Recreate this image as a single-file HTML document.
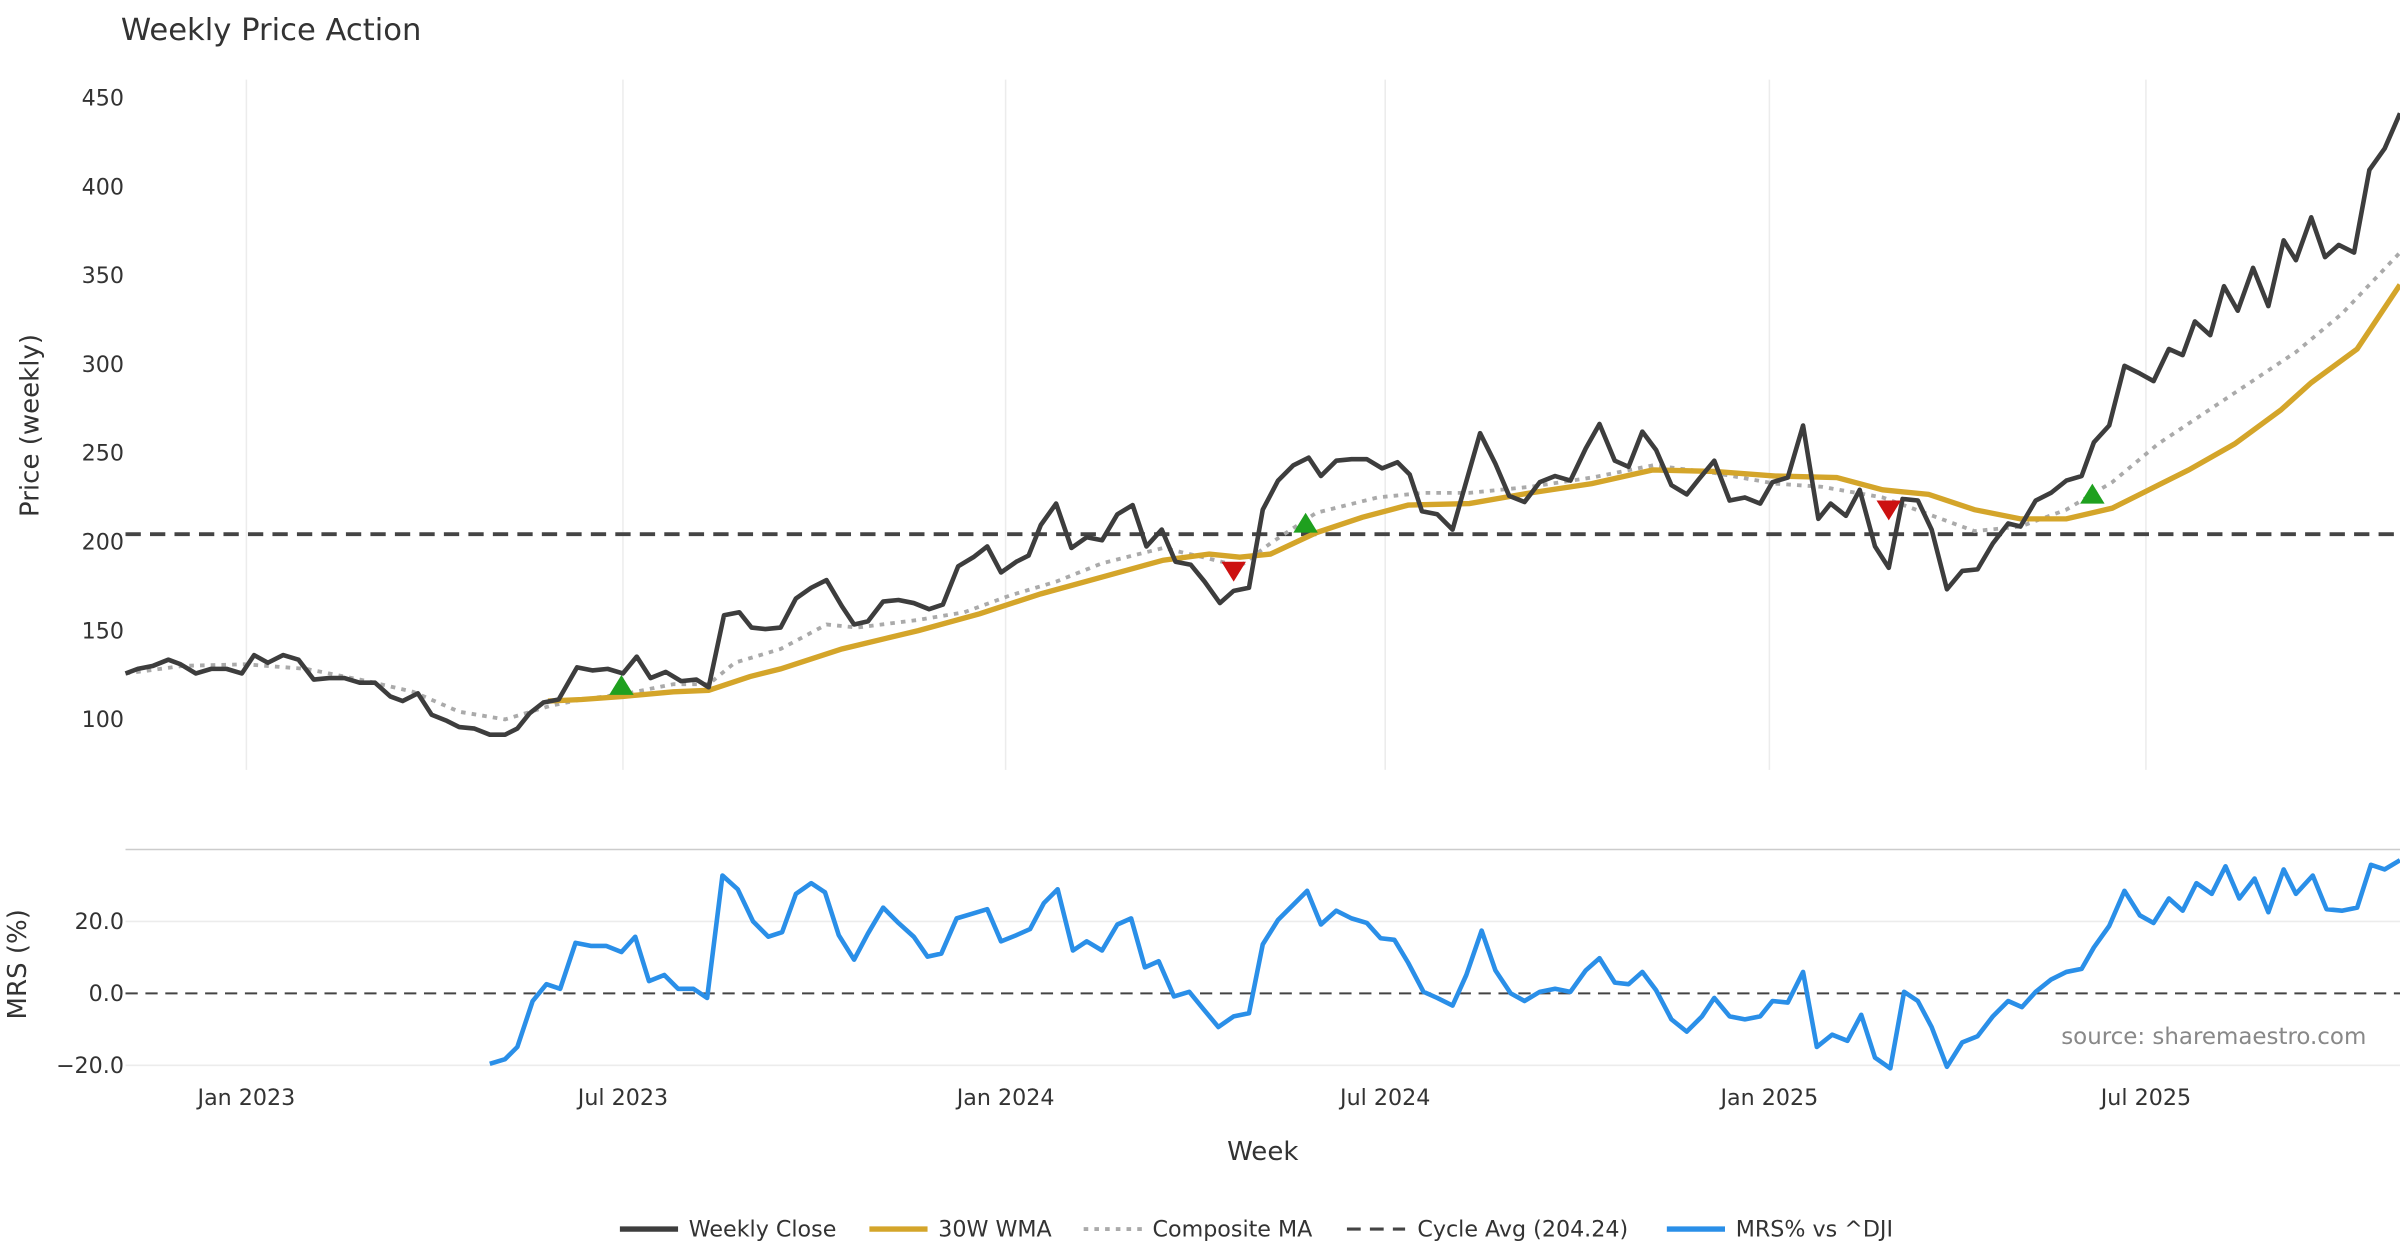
<!DOCTYPE html>
<html><head><meta charset="utf-8"><style>
html,body{margin:0;padding:0;background:#fff;}
svg{display:block;font-family:"DejaVu Sans","Liberation Sans",sans-serif;}
</style></head><body>
<svg width="2400" height="1260" viewBox="0 0 1568 823.2" xmlns="http://www.w3.org/2000/svg">
<rect width="1568" height="823.2" fill="#fff"/>
<text x="79" y="26" font-size="20" fill="#333">Weekly Price Action</text>
<g stroke="#ececec" stroke-width="1">
<line x1="161" y1="52" x2="161" y2="503"/><line x1="407" y1="52" x2="407" y2="503"/>
<line x1="657" y1="52" x2="657" y2="503"/><line x1="905" y1="52" x2="905" y2="503"/>
<line x1="1156" y1="52" x2="1156" y2="503"/><line x1="1402" y1="52" x2="1402" y2="503"/>
<line x1="82" y1="602" x2="1568" y2="602"/><line x1="82" y1="696" x2="1568" y2="696"/>
</g>
<line x1="82" y1="555" x2="1568" y2="555" stroke="#ccc" stroke-width="1"/>
<g font-size="14.5" fill="#333" text-anchor="end">
<text x="81" y="69">450</text><text x="81" y="127">400</text><text x="81" y="185">350</text>
<text x="81" y="243">300</text><text x="81" y="301">250</text><text x="81" y="359">200</text>
<text x="81" y="417">150</text><text x="81" y="475">100</text>
<text x="81" y="607">20.0</text><text x="81" y="654">0.0</text><text x="81" y="701">−20.0</text>
</g>
<g font-size="14.5" fill="#333" text-anchor="middle">
<text x="161" y="722">Jan 2023</text><text x="407" y="722">Jul 2023</text><text x="657" y="722">Jan 2024</text>
<text x="905" y="722">Jul 2024</text><text x="1156" y="722">Jan 2025</text><text x="1402" y="722">Jul 2025</text>
</g>
<text x="825" y="758" font-size="17" fill="#333" text-anchor="middle">Week</text>
<text transform="translate(25,278) rotate(-90)" font-size="17" fill="#333" text-anchor="middle">Price (weekly)</text>
<text transform="translate(17,630) rotate(-90)" font-size="17" fill="#333" text-anchor="middle">MRS (%)</text>
<line x1="82" y1="349" x2="1568" y2="349" stroke="#444" stroke-width="2.5" stroke-dasharray="10,6"/>
<line x1="82" y1="649" x2="1568" y2="649" stroke="#444" stroke-width="1.3" stroke-dasharray="8,5"/>
<polyline fill="none" stroke="#aaa" stroke-width="2.5" stroke-dasharray="3,4" points="82,440 120,435 160,434 200,437 240,445 270,452 300,465 330,470 360,461 380,457 410,453 440,447 463,447 480,433 510,424 540,408 560,410 600,405 630,400 660,389 690,380 720,368 760,358 790,365 810,370 830,355 860,335 900,325 930,322 960,322 1000,318 1040,312 1080,304 1120,309 1160,316 1190,318 1230,325 1260,336 1290,347 1320,344 1350,333 1380,315 1410,290 1440,270 1470,250 1500,230 1530,205 1568,165"/>
<polyline fill="none" stroke="#d4a52a" stroke-width="3.5" points="358,458 380,457 407,455 440,452 463,451 490,442 510,437 550,424 600,412 640,401 680,388 720,377 760,366 790,362 810,364 830,362 860,348 890,338 920,330 960,329 1000,322 1040,316 1080,307 1120,308 1160,311 1200,312 1230,320 1260,323 1290,333 1320,339 1350,339 1380,332 1400,322 1430,307 1460,290 1490,268 1510,250 1540,228 1568,186"/>
<polyline fill="none" stroke="#3d3d3d" stroke-width="3" stroke-linejoin="round" points="82,440 90,437 100,435 110,431 118,434 128,440 138,437 148,437 158,440 166,428 175,433 185,428 195,431 205,444 215,443 225,443 235,446 245,446 255,455 263,458 273,453 282,467 292,471 300,475 310,476 320,480 330,480 338,476 346,466 355,459 365,457 377,436 387,438 397,437 407,440 416,429 425,443 435,439 445,445 455,444 463,449 473,402 483,400 491,410 500,411 510,410 520,391 530,384 540,379 550,396 558,408 567,406 577,393 587,392 597,394 607,398 616,395 626,370 636,364 645,357 654,374 664,367 672,363 680,343 690,329 700,358 710,351 720,353 730,336 740,330 749,357 759,346 768,367 778,369 787,380 797,394 806,386 816,384 825,333 835,314 845,304 855,299 863,311 873,301 883,300 893,300 903,306 913,302 921,310 929,334 939,336 949,346 957,318 967,283 977,303 986,324 996,328 1006,315 1016,311 1026,314 1036,293 1045,277 1055,301 1064,305 1073,282 1082,294 1092,317 1102,323 1110,313 1120,301 1130,327 1140,325 1150,329 1158,315 1168,312 1178,278 1188,339 1196,329 1206,337 1215,320 1225,357 1234,371 1243,326 1253,327 1262,346 1272,385 1282,373 1292,372 1302,355 1312,342 1320,344 1330,327 1340,322 1350,314 1360,311 1368,289 1378,278 1388,239 1398,244 1407,249 1417,228 1426,232 1434,210 1444,219 1453,187 1462,203 1472,175 1482,200 1492,157 1500,170 1510,142 1519,168 1528,160 1538,165 1548,111 1558,97 1568,74"/>
<g fill="#1fa01f">
<polygon points="406,441 398,454 414,454"/><polygon points="853,335 845,348 861,348"/><polygon points="1367,316 1359,329 1375,329"/>
</g>
<g fill="#cc1111">
<polygon points="798,367 814,367 806,380"/><polygon points="1226,327 1242,327 1234,340"/>
</g>
<polyline fill="none" stroke="#2a8fe8" stroke-width="3" stroke-linejoin="round" points="320,695 330,692 338,684 348,654 357,643 366,646 376,616 386,618 396,618 406,622 415,612 424,641 434,637 443,646 453,646 462,652 472,572 482,581 492,602 502,612 511,609 520,584 530,577 539,583 548,611 558,627 567,610 577,593 587,603 597,612 606,625 615,623 625,600 635,597 645,594 654,615 664,611 673,607 682,590 691,581 701,621 710,615 720,621 730,604 739,600 748,632 757,628 767,651 777,648 786,659 796,671 806,664 816,662 825,617 835,601 845,591 854,582 863,604 873,595 883,600 893,603 902,613 911,614 920,629 930,648 939,652 949,657 958,637 968,608 977,634 987,649 996,654 1006,648 1016,646 1026,648 1036,634 1045,626 1055,642 1064,643 1073,635 1082,647 1092,666 1102,674 1112,664 1120,652 1130,664 1140,666 1150,664 1158,654 1168,655 1178,635 1187,684 1197,676 1207,680 1216,663 1225,691 1235,698 1244,648 1253,654 1262,671 1272,697 1282,681 1292,677 1302,664 1312,654 1321,658 1330,648 1340,640 1350,635 1360,633 1368,619 1378,605 1388,582 1398,598 1407,603 1417,587 1426,595 1435,577 1445,584 1454,566 1463,587 1473,574 1482,596 1492,568 1500,584 1511,572 1520,594 1530,595 1540,593 1549,565 1558,568 1568,562"/>
<text x="1546" y="682" font-size="15" fill="#888" text-anchor="end">source: sharemaestro.com</text>
<g font-size="14.5" fill="#333">
<line x1="405" y1="803" x2="443" y2="803" stroke="#3d3d3d" stroke-width="3.5"/><text x="450" y="808">Weekly Close</text>
<line x1="568" y1="803" x2="606" y2="803" stroke="#d4a52a" stroke-width="3.5"/><text x="613" y="808">30W WMA</text>
<line x1="708" y1="803" x2="746" y2="803" stroke="#aaa" stroke-width="2.5" stroke-dasharray="3,4"/><text x="753" y="808">Composite MA</text>
<line x1="880" y1="803" x2="918" y2="803" stroke="#444" stroke-width="2" stroke-dasharray="9,6"/><text x="926" y="808">Cycle Avg (204.24)</text>
<line x1="1089" y1="803" x2="1127" y2="803" stroke="#2a8fe8" stroke-width="3.5"/><text x="1134" y="808">MRS% vs ^DJI</text>
</g>
</svg>
</body></html>
